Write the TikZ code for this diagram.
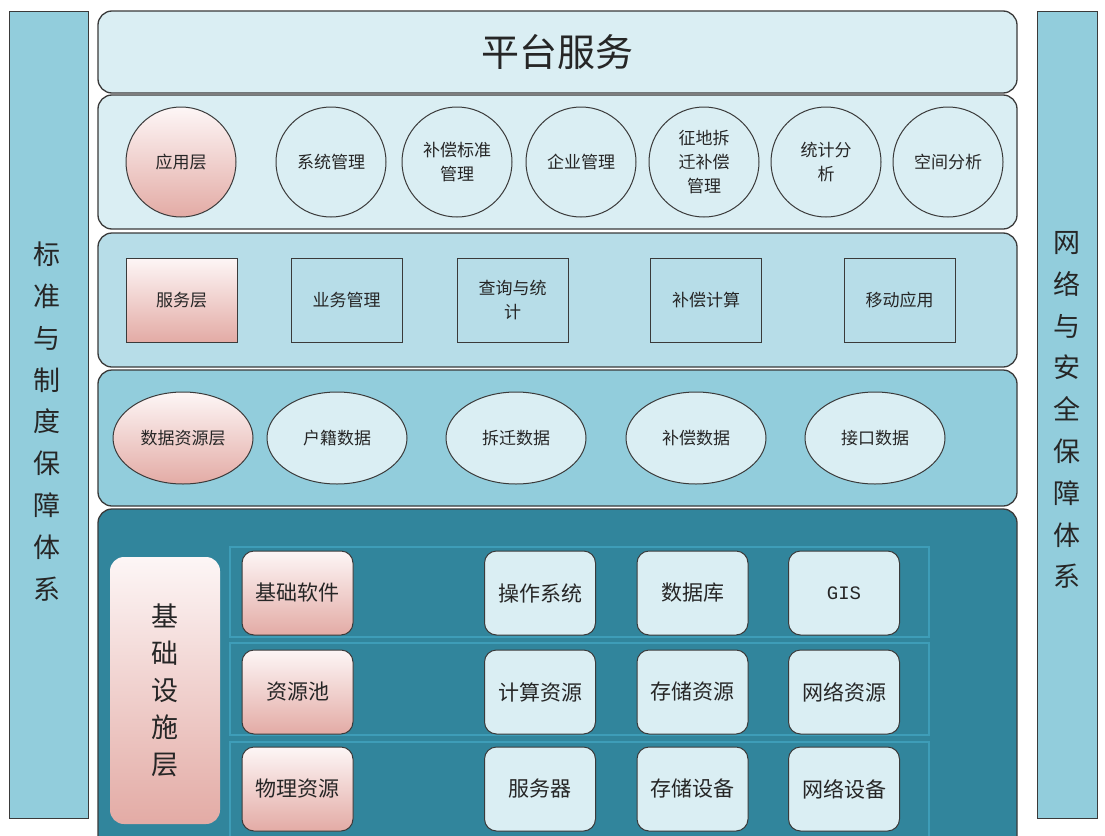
\documentclass[tikz,border=0pt]{standalone}
\usepackage{fontspec}
\newfontfamily\cjk{Noto Sans CJK SC}
\newfontfamily\monof{Liberation Mono}
\usetikzlibrary{shapes.geometric}
\definecolor{pale}{HTML}{DAEEF3}
\definecolor{svc}{HTML}{B7DDE8}
\definecolor{dat}{HTML}{92CDDC}
\definecolor{infra}{HTML}{31859C}
\definecolor{strip}{HTML}{3E9DB8}
\definecolor{edge}{HTML}{3A3A3A}
\definecolor{pinkT}{HTML}{FDF6F6}
\definecolor{pinkB}{HTML}{E3ABA5}
\tikzset{
  lay/.style={draw=edge, line width=1.3pt, rounded corners=14pt, inner sep=0pt},
  bar/.style={draw=edge, line width=1pt, fill=dat, inner sep=0pt},
  pinkfill/.style={top color=pinkT, bottom color=pinkB},
  txt/.style={font=\cjk\fontsize{17}{24}\selectfont, align=center, text=black!85},
  big/.style={font=\cjk\fontsize{21}{26}\selectfont, align=center, text=black!85},
  side/.style={font=\cjk\fontsize{27}{41.8}\selectfont, align=center, text=black!85},
  appc/.style={circle, draw=edge, line width=1pt, fill=pale, minimum size=110, inner sep=0pt, txt},
  svcr/.style={rectangle, draw=edge, line width=1pt, fill=svc, minimum width=111, minimum height=84, inner sep=0pt, txt},
  date/.style={ellipse, draw=edge, line width=1pt, fill=pale, minimum width=140, minimum height=92, inner sep=0pt, txt},
  inbox/.style={rectangle, rounded corners=12pt, draw=edge, line width=1pt, fill=pale, minimum width=111, minimum height=84, inner sep=0pt, big},
  stripbox/.style={rectangle, draw=strip, line width=2.5pt, fill=infra, minimum width=699, inner sep=0pt},
}
\begin{document}
\begin{tikzpicture}[x=1pt,y=-1pt]
\useasboundingbox (0,0) rectangle (1105,835);
\clip (0,0) rectangle (1105,835);
\fill[white] (0,0) rectangle (1105,835);

% side bars
\node[bar, minimum width=79, minimum height=807] (lbar) at (48.5,414.5) {};
\node[side] (ltext) at (47,421.5) {标\\准\\与\\制\\度\\保\\障\\体\\系};
\node[bar, minimum width=60, minimum height=807] (rbar) at (1067,414.5) {};
\node[side] (rtext) at (1067,410) {网\\络\\与\\安\\全\\保\\障\\体\\系};

% layers
\node[lay, fill=pale, minimum width=919, minimum height=82, font=\cjk\fontsize{38}{40}\selectfont, text=black!85] (platform) at (557.5,52) {平台服务};
\node[lay, fill=pale, minimum width=919, minimum height=134] (app) at (557.5,162) {};
\node[lay, fill=svc, minimum width=919, minimum height=134] (svclayer) at (557.5,300) {};
\node[lay, fill=dat, minimum width=919, minimum height=136] (datlayer) at (557.5,438) {};
\node[lay, fill=infra, minimum width=919, minimum height=351] (inflayer) at (557.5,684.5) {};

% application layer
\node[appc, pinkfill] (a1) at (181,162) {应用层};
\node[appc] (a2) at (331,162) {系统管理};
\node[appc] (a3) at (457,162) {补偿标准\\管理};
\node[appc] (a4) at (581,162) {企业管理};
\node[appc] (a5) at (704,162) {征地拆\\迁补偿\\管理};
\node[appc] (a6) at (826,162) {统计分\\析};
\node[appc] (a7) at (948,162) {空间分析};

% service layer
\node[svcr, pinkfill] (s1) at (181.5,300) {服务层};
\node[svcr] (s2) at (346.5,300) {业务管理};
\node[svcr] (s3) at (512.5,300) {查询与统\\计};
\node[svcr] (s4) at (706,300) {补偿计算};
\node[svcr] (s5) at (899.5,300) {移动应用};

% data layer
\node[date, pinkfill] (d1) at (183,438) {数据资源层};
\node[date] (d2) at (337,438) {户籍数据};
\node[date] (d3) at (516,438) {拆迁数据};
\node[date] (d4) at (696,438) {补偿数据};
\node[date] (d5) at (875,438) {接口数据};

% infrastructure layer
\node[stripbox, minimum height=90] (st1) at (579.5,592) {};
\node[stripbox, minimum height=92] (st2) at (579.5,689) {};
\node[stripbox, minimum height=108] (st3) at (579.5,796) {};
\node[rectangle, rounded corners=14pt, pinkfill, minimum width=110, minimum height=267, inner sep=0pt, font=\cjk\fontsize{27}{37}\selectfont, text=black!85, align=center] (i0) at (165,690.5) {基\\础\\设\\施\\层};

\node[inbox, pinkfill] (p1) at (297.5,593) {基础软件};
\node[inbox, pinkfill] (p2) at (297.5,692) {资源池};
\node[inbox, pinkfill] (p3) at (297.5,789) {物理资源};

\node[inbox] (b11) at (540,593) {操作系统};
\node[inbox] (b12) at (692.5,593) {数据库};
\node[inbox, font=\monof\fontsize{19}{22}\selectfont] (b13) at (844,593) {GIS};
\node[inbox] (b21) at (540,692) {计算资源};
\node[inbox] (b22) at (692.5,692) {存储资源};
\node[inbox] (b23) at (844,692) {网络资源};
\node[inbox] (b31) at (540,789) {服务器};
\node[inbox] (b32) at (692.5,789) {存储设备};
\node[inbox] (b33) at (844,789) {网络设备};
\end{tikzpicture}
\end{document}
